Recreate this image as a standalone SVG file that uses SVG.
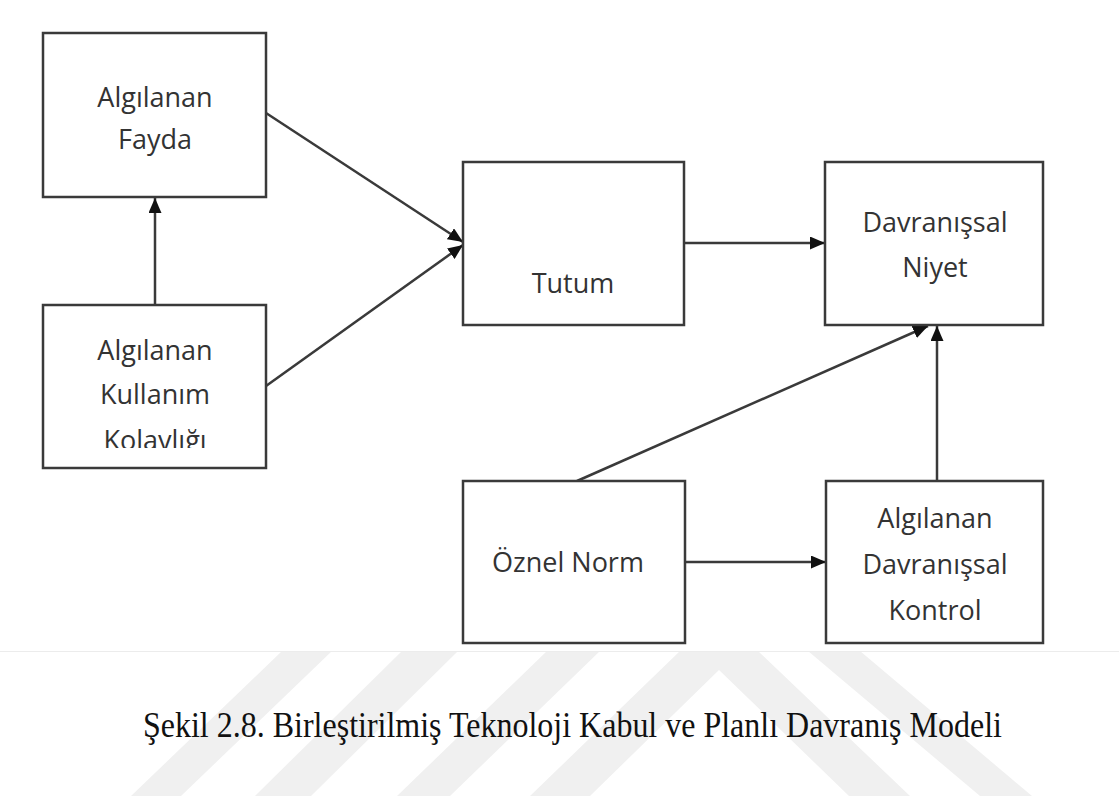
<svg xmlns="http://www.w3.org/2000/svg" width="1119" height="796" viewBox="0 0 1119 796">
  <style>
    .box { fill: #ffffff; stroke: #3a3a3a; stroke-width: 2.5; }
    .lbl { font-family: "Open Sans", "Noto Sans", "Liberation Sans", sans-serif; font-size: 27px; fill: #333333; text-anchor: middle; }
    .conn { stroke: #3a3a3a; stroke-width: 2.5; fill: none; marker-end: url(#arrow); }
    .wm { fill: #f0f0f0; }
    .cap { font-family: "Liberation Serif", "Times New Roman", serif; font-size: 32px; fill: #111111; }
  </style>
  <defs>
    <marker id="arrow" markerUnits="userSpaceOnUse" markerWidth="15" markerHeight="13" refX="15" refY="6.5" orient="auto">
      <path d="M0,0 L15,6.5 L0,13 z" fill="#111111"/>
    </marker>
    <clipPath id="clipB">
      <rect x="42" y="300" width="224" height="148"/>
    </clipPath>
    <clipPath id="clipWm">
      <rect x="0" y="652" width="1119" height="144"/>
    </clipPath>
  </defs>

  <rect x="0" y="0" width="1119" height="796" fill="#ffffff"/>

  <g id="watermark" clip-path="url(#clipWm)">
    <polygon class="wm" points="282,651 332,651 181,796 131,796"/>
    <polygon class="wm" points="402,651 458,651 311,796 255,796"/>
    <polygon class="wm" points="547,651 600,651 450,796 397,796"/>
    <polygon class="wm" points="680,651 758,651 910,796 849,796 719,670 590,796 530,796"/>
    <polygon class="wm" points="808,651 860,651 1032,796 980,796"/>
  </g>
  <line x1="0" y1="651.5" x2="1119" y2="651.5" stroke="#ececec" stroke-width="1"/>

  <g id="connectors">
    <line class="conn" x1="155" y1="305" x2="155" y2="198"/>
    <line class="conn" x1="266" y1="113" x2="463" y2="242"/>
    <line class="conn" x1="266" y1="386" x2="463" y2="245"/>
    <line class="conn" x1="684" y1="243" x2="825" y2="243"/>
    <line class="conn" x1="577" y1="481" x2="928" y2="326"/>
    <line class="conn" x1="937" y1="481" x2="937" y2="326"/>
    <line class="conn" x1="685" y1="562" x2="826" y2="562"/>
  </g>

  <g id="node-fayda">
    <rect class="box" x="43" y="33" width="223" height="164"/>
    <text class="lbl" x="155" y="107">Algılanan</text>
    <text class="lbl" x="155" y="149">Fayda</text>
  </g>

  <g id="node-kolaylik">
    <rect class="box" x="43" y="305" width="223" height="163"/>
    <text class="lbl" x="155" y="360">Algılanan</text>
    <text class="lbl" x="155" y="404">Kullanım</text>
    <text class="lbl" x="155" y="450" clip-path="url(#clipB)">Kolaylığı</text>
  </g>

  <g id="node-tutum">
    <rect class="box" x="463" y="162" width="221" height="163"/>
    <text class="lbl" x="573" y="293">Tutum</text>
  </g>

  <g id="node-niyet">
    <rect class="box" x="825" y="162" width="218" height="163"/>
    <text class="lbl" x="935" y="232">Davranışsal</text>
    <text class="lbl" x="935" y="277">Niyet</text>
  </g>

  <g id="node-oznel">
    <rect class="box" x="463" y="481" width="222" height="162"/>
    <text class="lbl" x="568" y="572">Öznel Norm</text>
  </g>

  <g id="node-kontrol">
    <rect class="box" x="826" y="481" width="217" height="162"/>
    <text class="lbl" x="935" y="528">Algılanan</text>
    <text class="lbl" x="935" y="574">Davranışsal</text>
    <text class="lbl" x="935" y="620">Kontrol</text>
  </g>

  <g transform="translate(0,737) scale(1,1.15)">
    <text class="cap" x="143" y="0">Şekil 2.8. Birleştirilmiş Teknoloji Kabul ve Planlı Davranış Modeli</text>
  </g>
</svg>
